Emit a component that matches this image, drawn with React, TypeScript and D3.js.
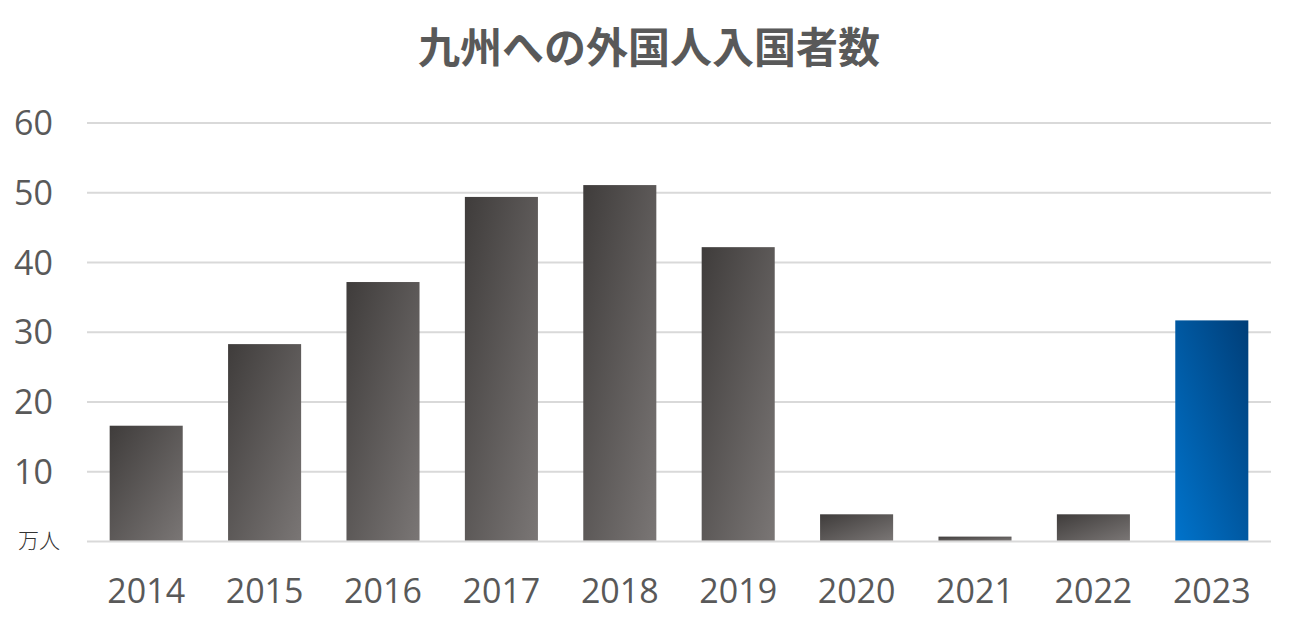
import React from "react";
import * as d3 from "d3";

const years = ["2014", "2015", "2016", "2017", "2018", "2019", "2020", "2021", "2022", "2023"];
const visitors = [16.6, 28.3, 37.2, 49.4, 51.1, 42.2, 3.9, 0.7, 3.9, 31.7];
const yTicks = [10, 20, 30, 40, 50, 60];
const highlightYear = "2023";
const title = "九州への外国人入国者数";
const unitLabel = "万人";

const W = 1294;
const H = 625;

export default function App() {
  const x = d3
    .scaleBand<string>()
    .domain(years)
    .range([87, 1271])
    .paddingInner(0.383)
    .paddingOuter(0.1915);
  const y = d3.scaleLinear().domain([0, 60]).range([541.5, 123]);
  const tickFont = "'Open Sans', 'Liberation Sans', sans-serif";

  return (
    <svg
      width={W}
      height={H}
      style={{ position: "absolute", left: 0, top: 0, background: "#fff" }}
    >
      <defs>
        <linearGradient id="gray" x1="0" y1="0" x2="1" y2="1">
          <stop offset="0%" stopColor="#3f3c3b" />
          <stop offset="100%" stopColor="#7a7675" />
        </linearGradient>
        <linearGradient id="blue" x1="0" y1="1" x2="1" y2="0">
          <stop offset="0%" stopColor="#0073cb" />
          <stop offset="100%" stopColor="#003e78" />
        </linearGradient>
      </defs>
      <text
        x={649}
        y={63}
        textAnchor="middle"
        fontFamily="'Noto Sans CJK JP', sans-serif"
        fontWeight="bold"
        fontSize={42}
        fill="#595959"
      >
        {title}
      </text>
      {[0, ...yTicks].map((t) => (
        <line
          key={"g" + t}
          x1={87}
          x2={1271}
          y1={y(t)}
          y2={y(t)}
          stroke="#d9d9d9"
          strokeWidth={2}
        />
      ))}
      {yTicks.map((t) => (
        <text
          key={"yt" + t}
          x={53}
          y={y(t)}
          dy="0.36em"
          textAnchor="end"
          fontFamily={tickFont}
          fontSize={34}
          fill="#595959"
        >
          {t}
        </text>
      ))}
      <text
        x={18}
        y={548}
        fontFamily="'Noto Sans CJK JP', sans-serif"
        fontWeight={300}
        fontSize={21}
        fill="#333"
      >
        {unitLabel}
      </text>
      {years.map((yr, i) => (
        <rect
          key={"b" + yr}
          x={x(yr)}
          y={y(visitors[i])}
          width={x.bandwidth()}
          height={y(0) - y(visitors[i]) - 1}
          fill={yr === highlightYear ? "url(#blue)" : "url(#gray)"}
        />
      ))}
      {years.map((yr) => (
        <text
          key={"xt" + yr}
          x={(x(yr) as number) + x.bandwidth() / 2}
          y={603}
          textAnchor="middle"
          fontFamily={tickFont}
          fontSize={34}
          fill="#595959"
        >
          {yr}
        </text>
      ))}
    </svg>
  );
}
